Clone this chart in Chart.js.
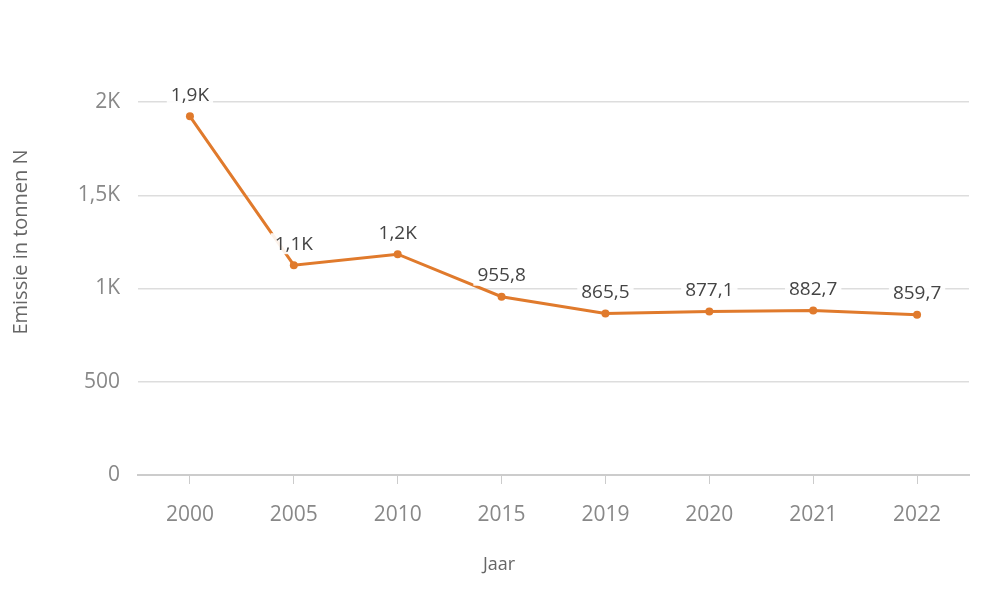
<!DOCTYPE html>
<html>
<head>
<meta charset="utf-8">
<script src="https://cdn.jsdelivr.net/npm/chart.js@4"></script>
<style>
  html, body { margin: 0; padding: 0; background: #ffffff; }
  #wrap { width: 1000px; height: 593px; position: relative; }
</style>
</head>
<body>
<div id="wrap"><canvas id="emissieChart"></canvas></div>
<script>
// Jaren en emissie (tonnen N)
const jaren = ["2000", "2005", "2010", "2015", "2019", "2020", "2021", "2022"];
const emissie = [1923, 1125, 1184, 955.8, 865.5, 877.1, 882.7, 859.7];
const yTicks = [0, 500, 1000, 1500, 2000];
const xTitel = "Jaar";
const yTitel = "Emissie in tonnen N";

const oranje = "#e07a2c";

function formatNL(v) {
    if (v >= 1000) {
        return (v / 1000).toFixed(v % 1000 === 0 ? 0 : 1).replace(".", ",") + "K";
    }
    return String(v).replace(".", ",");
}

// Labels boven de punten, met witte achtergrond
const labelPlugin = {
    id: "puntLabels",
    afterDatasetsDraw(chart) {
        const ctx = chart.ctx;
        const meta = chart.getDatasetMeta(0);
        ctx.save();
        ctx.font = "19px 'Open Sans'";
        ctx.textAlign = "center";
        ctx.textBaseline = "middle";
        meta.data.forEach(function(pt, i) {
            const txt = formatNL(emissie[i] >= 1000 ? Math.round(emissie[i] / 100) * 100 : emissie[i]);
            const w = ctx.measureText(txt).width;
            const y = pt.y - 21;
            ctx.fillStyle = "rgba(255,255,255,0.9)";
            ctx.fillRect(pt.x - w / 2 - 4, y - 11, w + 8, 21);
            ctx.fillStyle = "#444444";
            ctx.fillText(txt, pt.x, y);
        });
        ctx.restore();
    }
};

// Astitels (handmatig geplaatst zoals in het origineel)
const titelPlugin = {
    id: "asTitels",
    afterDraw(chart) {
        const ctx = chart.ctx;
        ctx.save();
        ctx.fillStyle = "#666666";
        ctx.textAlign = "center";
        ctx.textBaseline = "middle";
        ctx.font = "18px 'Open Sans'";
        ctx.fillText(xTitel, 499, 565);
        ctx.translate(21, 242);
        ctx.rotate(-Math.PI / 2);
        ctx.font = "20px 'Open Sans'";
        ctx.fillText(yTitel, 0, 0);
        ctx.restore();
    }
};

const ctx = document.getElementById("emissieChart").getContext("2d");
new Chart(ctx, {
    type: "line",
    data: {
        labels: jaren,
        datasets: [{
            data: emissie,
            borderColor: oranje,
            backgroundColor: oranje,
            borderWidth: 3,
            pointRadius: 4,
            pointBackgroundColor: oranje,
            pointBorderWidth: 0,
            tension: 0
        }]
    },
    options: {
        responsive: true,
        maintainAspectRatio: false,
        animation: false,
        layout: { padding: { top: 102, right: 31, left: 0, bottom: 0 } },
        plugins: {
            legend: { display: false },
            tooltip: { enabled: false }
        },
        scales: {
            x: {
                offset: true,
                afterFit: function(scale) { scale.height = 118; },
                grid: {
                    drawOnChartArea: false,
                    drawTicks: true,
                    tickLength: 9,
                    color: "#cccccc",
                    offset: false
                },
                border: { display: true, color: "#cccccc", width: 2 },
                ticks: {
                    color: "#888888",
                    font: { family: "'Open Sans'", size: 21 },
                    padding: 18,
                    maxRotation: 0
                }
            },
            y: {
                min: 0,
                max: 2000,
                afterFit: function(scale) { scale.width = 138; },
                afterBuildTicks: function(scale) {
                    scale.ticks = yTicks.map(v => ({ value: v }));
                },
                grid: {
                    color: "#dddddd",
                    lineWidth: 1.5,
                    drawTicks: false
                },
                border: { display: false },
                ticks: {
                    color: "#888888",
                    font: { family: "'Open Sans'", size: 21 },
                    padding: 18,
                    callback: function(v) { return formatNL(v); }
                }
            }
        }
    },
    plugins: [labelPlugin, titelPlugin]
});
</script>
</body>
</html>
